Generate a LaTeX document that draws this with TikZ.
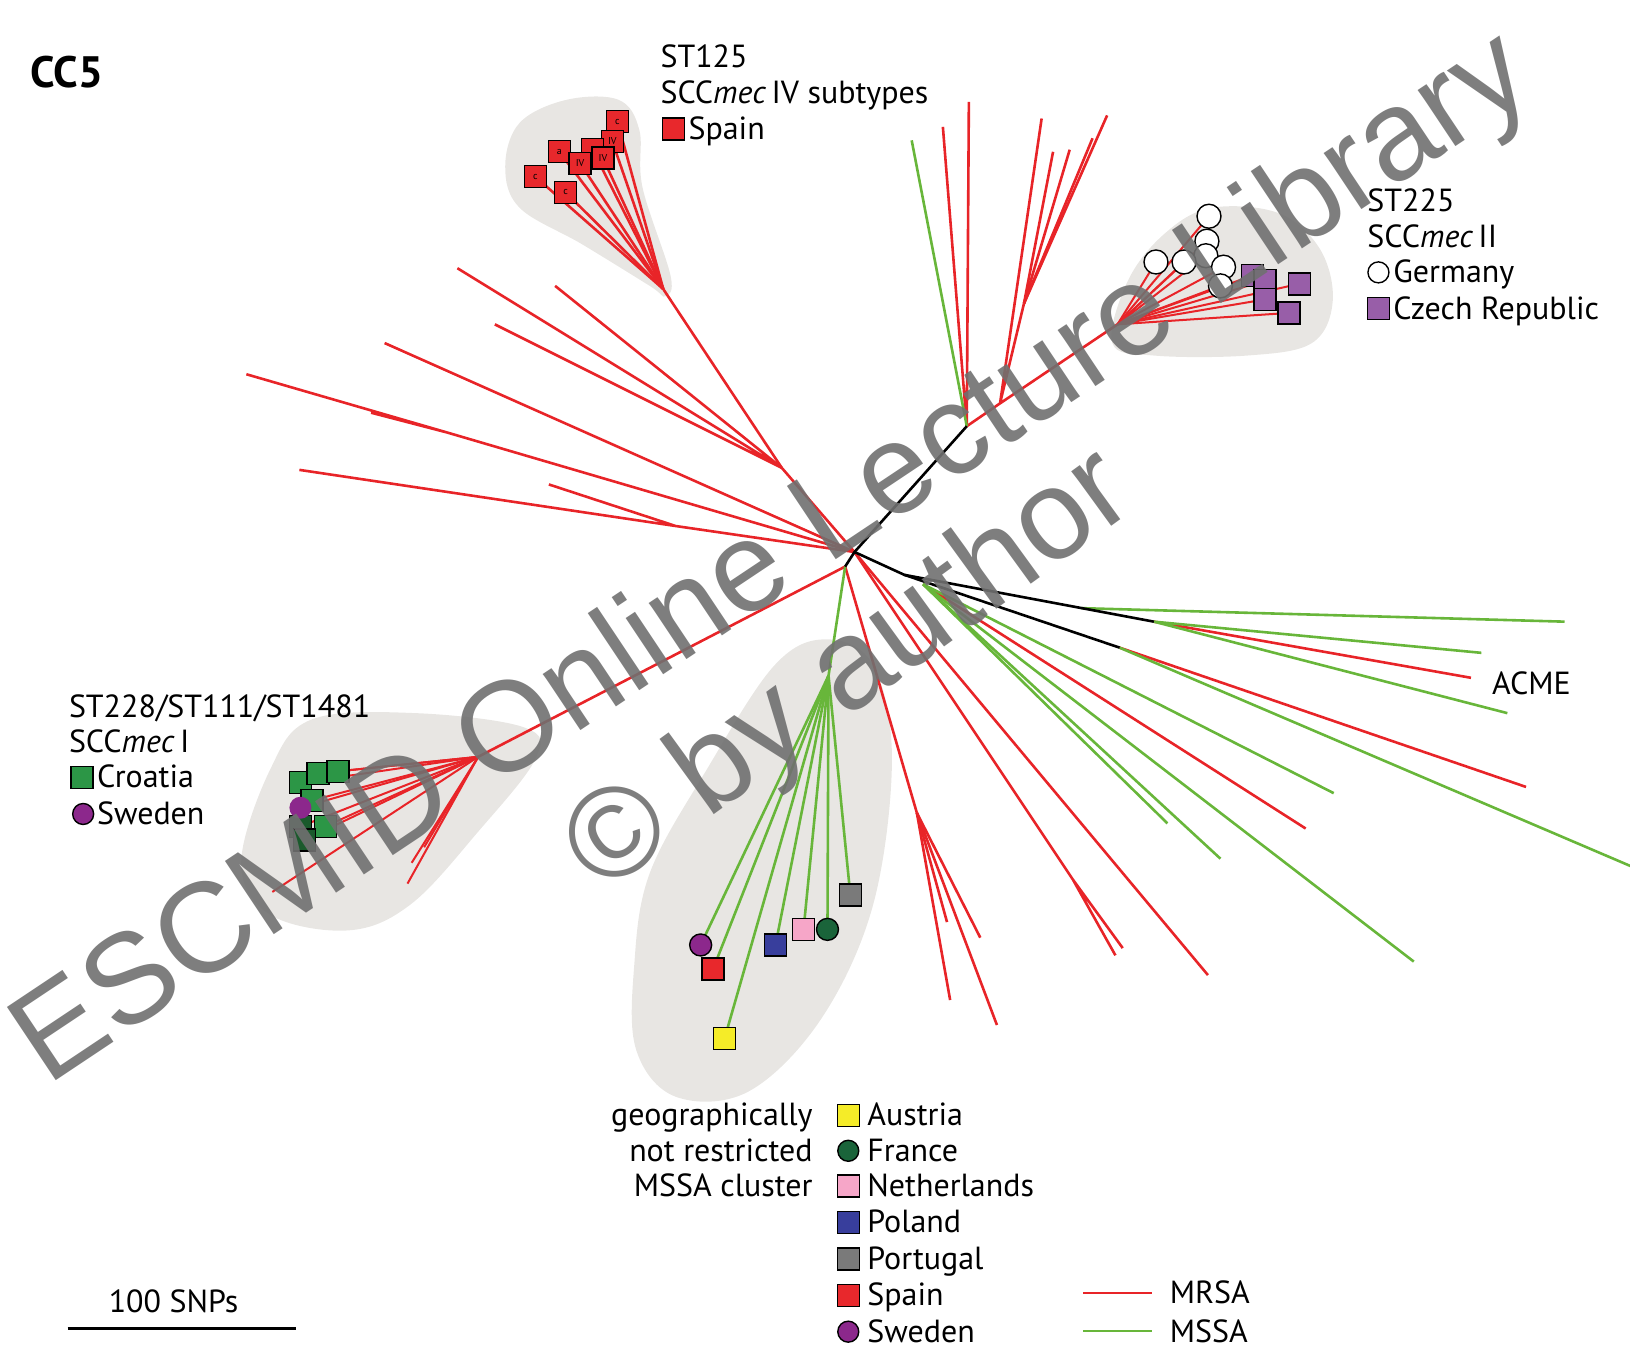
\documentclass[tikz,border=0pt]{standalone}
\usepackage{fontspec}
\setmainfont{PT Sans}
\newfontfamily\wmfont{Liberation Sans}
\usepackage{xcolor}
\usepackage{tikz}

\definecolor{redbr}{RGB}{232,36,40}
\definecolor{greenbr}{RGB}{104,182,58}
\definecolor{blobgray}{RGB}{232,230,227}
\definecolor{spainred}{RGB}{232,40,44}
\definecolor{czechpurple}{RGB}{152,94,168}
\definecolor{croatiagreen}{RGB}{44,150,70}
\definecolor{croatiadark}{RGB}{26,90,44}
\definecolor{swedenpurple}{RGB}{140,40,140}
\definecolor{austriayellow}{RGB}{245,236,40}
\definecolor{francegreen}{RGB}{26,100,58}
\definecolor{nlpink}{RGB}{246,166,200}
\definecolor{polandblue}{RGB}{56,62,156}
\definecolor{portugalgray}{RGB}{122,122,122}
\definecolor{markgray}{RGB}{112,112,112}

\begin{document}
\begin{tikzpicture}[x=0.52pt,y=0.52pt,yscale=-1,
  mrsaline/.style={draw=redbr,line width=1.3pt},
  mssaline/.style={draw=greenbr,line width=1.3pt},
  trunk/.style={draw=black,line width=1.3pt},
  blob/.style={fill=blobgray,draw=none},
  sq/.style={rectangle,draw=black,line width=0.7pt,minimum size=11pt,inner sep=0pt},
  dot/.style={circle,draw=black,line width=0.7pt,minimum size=12pt,inner sep=0pt},
  lbl/.style={anchor=base west,inner sep=0pt,font=\fontsize{16}{19}\selectfont},
  tiny/.style={font=\fontsize{4.5}{5}\selectfont,text=black!70!red}]
\useasboundingbox (0,0) rectangle (1568,1302);
\clip (0,0) rectangle (1568,1302);

%Shapes: cluster backgrounds
\fill[blob] plot[smooth cycle,tension=0.6] coordinates {(486,160) (500,118) (545,96) (595,96) (615,125) (618,180) (645,265) (640,285) (625,275) (560,235) (500,200)};
\fill[blob] plot[smooth cycle,tension=0.6] coordinates {(1070,330) (1085,270) (1120,225) (1165,200) (1230,205) (1270,240) (1282,290) (1262,330) (1200,342) (1110,342)};
\fill[blob] plot[smooth cycle,tension=0.6] coordinates {(232,830) (260,740) (300,692) (400,686) (505,700) (515,730) (460,800) (395,870) (335,895) (260,880)};
\fill[blob] plot[smooth cycle,tension=0.6] coordinates {(610,930) (625,840) (680,740) (745,640) (795,615) (840,640) (858,730) (840,870) (790,980) (720,1050) (650,1055) (612,1010)};

%Inner nodes of the tree
\coordinate (C) at (822,531);
\coordinate (N2) at (813,545);
\coordinate (U) at (930,410);
\coordinate (V) at (962,388);
\coordinate (W) at (985,292);
\coordinate (S) at (1075,312);
\coordinate (F) at (638,278);
\coordinate (L1) at (752,450);
\coordinate (K) at (430,416);
\coordinate (J) at (650,506);
\coordinate (T) at (460,728);
\coordinate (M) at (797,650);
\coordinate (R) at (870,553);
\coordinate (R2) at (888,562);
\coordinate (G0) at (1040,585);
\coordinate (A1) at (1110,598);
\coordinate (A2) at (1077,623);
\coordinate (P) at (882,782);
\coordinate (Q) at (1032,846);

%Leaves
\coordinate (ul1) at (440,258); \coordinate (ul2) at (534,275); \coordinate (ul3) at (476,312);
\coordinate (ul4) at (370,330); \coordinate (ul5) at (237,360); \coordinate (ul6) at (357,397);
\coordinate (ul7) at (288,452); \coordinate (ul8) at (528,466);
\coordinate (up1) at (877,135); \coordinate (up2) at (907,122); \coordinate (up3) at (932,98);
\coordinate (vw1) at (1002,114); \coordinate (vw2) at (1013,146); \coordinate (vw3) at (1029,144);
\coordinate (vw4) at (1051,133); \coordinate (vw5) at (1065,111);
\coordinate (rt1) at (1505,598); \coordinate (rt2) at (1425,628); \coordinate (acme) at (1415,652);
\coordinate (rt4) at (1450,686); \coordinate (rt5) at (1468,757); \coordinate (rt6) at (1580,838);
\coordinate (rt7) at (1360,925); \coordinate (rt8) at (1283,763); \coordinate (rt9) at (1174,826);
\coordinate (rt10) at (1123,792); \coordinate (rt11) at (1256,797);
\coordinate (lw1) at (1162,938); \coordinate (lw2) at (1080,912); \coordinate (lw3) at (1073,919);
\coordinate (lw4) at (914,962); \coordinate (lw5) at (911,887); \coordinate (lw6) at (943,902);
\coordinate (lw7) at (959,986);
\coordinate (e1) at (262,858); \coordinate (e2) at (392,850); \coordinate (e3) at (396,830); \coordinate (e4) at (408,815);
% ST125
\coordinate (es1) at (594,117); \coordinate (es2) at (589,136); \coordinate (es3) at (538,146); \coordinate (es4) at (570,144);
\coordinate (es5) at (558,157); \coordinate (es6) at (580,152); \coordinate (es7) at (515,170); \coordinate (es8) at (544,185);
% ST225
\coordinate (de1) at (1112,252); \coordinate (de2) at (1139,252); \coordinate (de3) at (1163,208); \coordinate (de4) at (1161,232);
\coordinate (de5) at (1160,246); \coordinate (de6) at (1177,257); \coordinate (de7) at (1174,275);
\coordinate (cz1) at (1205,265); \coordinate (cz2) at (1217,270); \coordinate (cz3) at (1217,288); \coordinate (cz4) at (1250,273);
\coordinate (cz5) at (1240,301);
% ST228
\coordinate (hr1) at (289,753); \coordinate (hr2) at (306,744); \coordinate (hr3) at (325,742); \coordinate (hr4) at (300,770);
\coordinate (hr5) at (289,795); \coordinate (hr6) at (313,795); \coordinate (hr7) at (293,808); \coordinate (sw) at (289,777);
% MSSA cluster
\coordinate (ms1) at (674,909); \coordinate (ms2) at (686,932); \coordinate (ms3) at (697,999); \coordinate (ms4) at (746,909);
\coordinate (ms5) at (773,894); \coordinate (ms6) at (796,894); \coordinate (ms7) at (818,861);

%Branches MRSA
\draw[mrsaline] (C) -- (L1) -- (F);
\draw[mrsaline] (L1) -- (ul1) (L1) -- (ul2) (L1) -- (ul3);
\draw[mrsaline] (C) -- (ul4);
\draw[mrsaline] (C) -- (K) -- (ul5) (K) -- (ul6);
\draw[mrsaline] (C) -- (J) -- (ul7) (J) -- (ul8);
\foreach \p in {es1,es2,es3,es4,es5,es6,es7,es8} \draw[mrsaline] (F) -- (\p);
\draw[mrsaline] (U) -- (up2) (U) -- (up3);
\draw[mrsaline] (U) -- (V) -- (S) (V) -- (vw1) (V) -- (W);
\foreach \p in {vw2,vw3,vw4,vw5} \draw[mrsaline] (W) -- (\p);
\foreach \p in {de1,de2,de3,de4,de5,de6,de7,cz1,cz2,cz3,cz4,cz5} \draw[mrsaline,line width=1pt] (S) -- (\p);
\draw[mrsaline] (N2) -- (T);
\foreach \p in {e1,e2,e3,e4,hr1,hr2,hr3,hr4,hr5,hr6,hr7,sw} \draw[mrsaline,line width=1pt] (T) -- (\p);
\draw[mrsaline] (N2) -- (P);
\foreach \p in {lw4,lw5,lw6,lw7} \draw[mrsaline] (P) -- (\p);
\draw[mrsaline] (C) -- (Q) -- (lw2) (Q) -- (lw3);
\draw[mrsaline] (C) -- (lw1);
\draw[mrsaline] (R2) -- (rt11);
\draw[mrsaline] (A1) -- (acme);
\draw[mrsaline] (A2) -- (rt5);

%Branches MSSA
\draw[mssaline] (U) -- (up1);
\draw[mssaline] (N2) -- (M);
\foreach \p in {ms1,ms2,ms3,ms4,ms5,ms6,ms7} \draw[mssaline] (M) -- (\p);
\draw[mssaline] (G0) -- (rt1);
\draw[mssaline] (A1) -- (rt2) (A1) -- (rt4);
\draw[mssaline] (A2) -- (rt6);
\foreach \p in {rt7,rt8,rt9,rt10} \draw[mssaline] (R2) -- (\p);

%Backbone
\draw[trunk] (N2) -- (C) -- (U);
\draw[trunk] (C) -- (R) -- (A1);
\draw[trunk] (R) -- (A2);

%Leaf symbols ST125
\node[sq,fill=spainred] (es1m) at (es1) {\tiny c};
\node[sq,fill=spainred] (es2m) at (es2) {\tiny IV};
\node[sq,fill=spainred] (es4m) at (es4) {};
\node[sq,fill=spainred] (es3m) at (es3) {\tiny a};
\node[sq,fill=spainred] (es6m) at (es6) {\tiny IV};
\node[sq,fill=spainred] (es5m) at (es5) {\tiny IV};
\node[sq,fill=spainred] (es7m) at (es7) {\tiny c};
\node[sq,fill=spainred] (es8m) at (es8) {\tiny c};
%Leaf symbols ST225
\foreach \p in {de3,de4,de5,de1,de2,de6,de7} \node[dot,fill=white] (\p m) at (\p) {};
\foreach \p in {cz1,cz2,cz3,cz4,cz5} \node[sq,fill=czechpurple] (\p m) at (\p) {};
%Leaf symbols ST228
\foreach \p in {hr1,hr2,hr3,hr4,hr6} \node[sq,fill=croatiagreen] (\p m) at (\p) {};
\foreach \p in {hr5,hr7} \node[sq,fill=croatiadark] (\p m) at (\p) {};
\node[dot,draw=none,fill=swedenpurple,minimum size=11pt] (swm) at (sw) {};
%Leaf symbols MSSA cluster
\node[dot,fill=swedenpurple,minimum size=11pt] (ms1m) at (ms1) {};
\node[sq,fill=spainred] (ms2m) at (ms2) {};
\node[sq,fill=austriayellow] (ms3m) at (ms3) {};
\node[sq,fill=polandblue] (ms4m) at (ms4) {};
\node[sq,fill=nlpink] (ms5m) at (ms5) {};
\node[dot,fill=francegreen,minimum size=11pt] (ms6m) at (ms6) {};
\node[sq,fill=portugalgray] (ms7m) at (ms7) {};

% Text Node
\node[lbl,font=\bfseries\fontsize{22}{24}\selectfont] (cc5) at (29,84) {CC5};
% Text Node
\node[lbl] (t125) at (635,65) {ST125};
\node[lbl] (t125b) at (635,100) {SCC\textit{mec}\,IV subtypes};
\node[sq,fill=spainred] (k125) at (648,124) {};
\node[lbl] (t125c) at (662,134) {Spain};
% Text Node
\node[lbl] (t225) at (1315,203) {ST225};
\node[lbl] (t225b) at (1315,238) {SCC\textit{mec}\,II};
\node[dot,fill=white,minimum size=10.5pt] (k225a) at (1326,262) {};
\node[lbl] (t225c) at (1340,272) {Germany};
\node[sq,fill=czechpurple] (k225b) at (1326,297) {};
\node[lbl] (t225d) at (1340,307) {Czech Republic};
% Text Node
\node[lbl] (t228) at (66,690) {ST228/ST111/ST1481};
\node[lbl] (t228b) at (66,724) {SCC\textit{mec}\,I};
\node[sq,fill=croatiagreen] (k228a) at (79,748) {};
\node[lbl] (t228c) at (93,758) {Croatia};
\node[dot,fill=swedenpurple,minimum size=10.5pt] (k228b) at (80,783) {};
\node[lbl] (t228d) at (93,793) {Sweden};
% Text Node
\node[lbl] (tacme) at (1435,668) {ACME};
% Text Node
\node[lbl,anchor=base east] (g1) at (782,1083) {geographically};
\node[lbl,anchor=base east] (g2) at (782,1117) {not restricted};
\node[lbl,anchor=base east] (g3) at (782,1151) {MSSA cluster};
\node[sq,fill=austriayellow] (lk1) at (816,1073) {};
\node[lbl] (lt1) at (834,1083) {Austria};
\node[dot,fill=francegreen,minimum size=10.5pt] (lk2) at (816,1107) {};
\node[lbl] (lt2) at (834,1117) {France};
\node[sq,fill=nlpink] (lk3) at (816,1141) {};
\node[lbl] (lt3) at (834,1151) {Netherlands};
\node[sq,fill=polandblue] (lk4) at (816,1176) {};
\node[lbl] (lt4) at (834,1186) {Poland};
\node[sq,fill=portugalgray] (lk5) at (816,1211) {};
\node[lbl] (lt5) at (834,1221) {Portugal};
\node[sq,fill=spainred] (lk6) at (816,1246) {};
\node[lbl] (lt6) at (834,1256) {Spain};
\node[dot,fill=swedenpurple,minimum size=10.5pt] (lk7) at (816,1281) {};
\node[lbl] (lt7) at (834,1291) {Sweden};
% Legend lines
\coordinate (mr0) at (1042,1244); \coordinate (mr1) at (1108,1244);
\coordinate (ms0) at (1042,1280); \coordinate (ms1e) at (1108,1280);
\draw[mrsaline,line width=1pt] (mr0) -- (mr1);
\draw[mssaline,line width=1pt] (ms0) -- (ms1e);
\node[lbl] (lmrsa) at (1125,1254) {MRSA};
\node[lbl] (lmssa) at (1125,1291) {MSSA};
% Scale bar
\coordinate (sb0) at (65,1278); \coordinate (sb1) at (285,1278);
\draw[line width=1.5pt] (sb0) -- (sb1);
\node[lbl,anchor=base] (sbt) at (167,1263) {100 SNPs};

% Watermark
\node[rotate=33.7,anchor=base west,inner sep=0pt,text=markgray,text opacity=0.9,font=\wmfont\fontsize{64}{64}\selectfont] (wm1) at (45,1045) {ESCMID Online Lecture Library};
\node[rotate=36,anchor=base west,inner sep=0pt,text=markgray,text opacity=0.9,font=\wmfont\fontsize{64}{64}\selectfont] (wm2) at (579,862) {\textcopyright{} by author};
\end{tikzpicture}
\end{document}
